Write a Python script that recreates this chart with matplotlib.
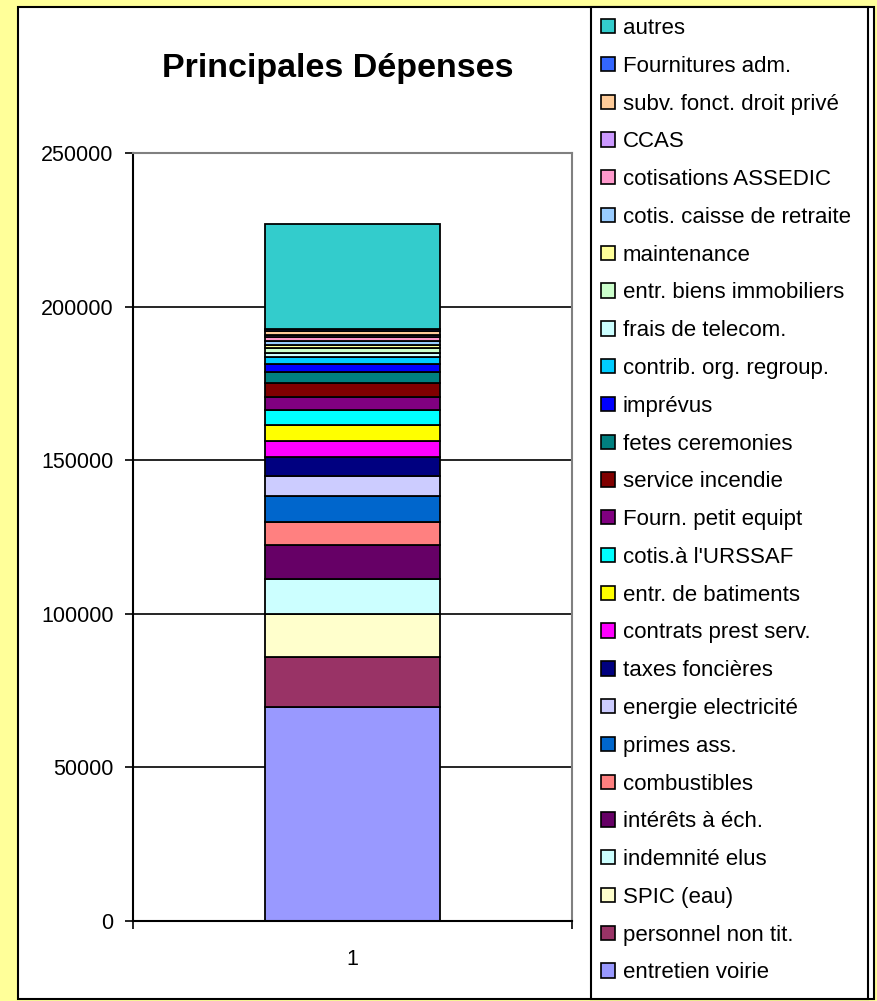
import matplotlib
matplotlib.use("Agg")
import matplotlib.pyplot as plt
from matplotlib.patches import Rectangle, Patch

plt.rcParams['font.family'] = ['Liberation Sans', 'DejaVu Sans']

# Series, bottom to top of the stacked bar
categories = ["1"]
series_names = [
    "entretien voirie", "personnel non tit.", "SPIC (eau)", "indemnité elus",
    "intérêts à éch.", "combustibles", "primes ass.", "energie electricité",
    "taxes foncières", "contrats prest serv.", "entr. de batiments",
    "cotis.à l'URSSAF", "Fourn. petit equipt", "service incendie",
    "fetes ceremonies", "imprévus", "contrib. org. regroup.", "frais de telecom.",
    "entr. biens immobiliers", "maintenance", "cotis. caisse de retraite",
    "cotisations ASSEDIC", "CCAS", "subv. fonct. droit privé", "Fournitures adm.",
    "autres",
]
series_values = [
    69700, 16300, 14000, 11300,
    11100, 7600, 8200, 6500,
    6300, 5200, 5200,
    5000, 4300, 4300,
    3700, 2500, 2400, 1300,
    1500, 1000, 1500,
    1300, 700, 1100, 800,
    34200,
]
series_colors = [
    "#9999FF", "#993366", "#FFFFCC", "#CCFFFF",
    "#660066", "#FF8080", "#0066CC", "#CCCCFF",
    "#000080", "#FF00FF", "#FFFF00",
    "#00FFFF", "#800080", "#800000",
    "#008080", "#0000FF", "#00CCFF", "#CCFFFF",
    "#CCFFCC", "#FFFF99", "#99CCFF",
    "#FF99CC", "#CC99FF", "#FFCC99", "#3366FF",
    "#33CCCC",
]
y_ticks = [0, 50000, 100000, 150000, 200000, 250000]

W, H = 877, 1001
fig = plt.figure(figsize=(W / 100, H / 100), dpi=100)
fig.patch.set_facecolor("#FFFF99")

def fx(px):
    return px / W

def fy(py):
    return 1 - py / H

# white chart area with black border
fig.patches.append(Rectangle((fx(18), fy(999)), fx(874) - fx(18), fy(7) - fy(999),
                             transform=fig.transFigure, facecolor="white",
                             edgecolor="black", linewidth=1.5, zorder=-2))
# legend box
fig.patches.append(Rectangle((fx(591), fy(999)), fx(868) - fx(591), fy(7) - fy(999),
                             transform=fig.transFigure, facecolor="white",
                             edgecolor="black", linewidth=1.5, zorder=-1))

ax = fig.add_axes([fx(133), fy(921), fx(572) - fx(133), fy(153) - fy(921)])
ax.set_zorder(1)
ax.set_facecolor("white")

bottom = 0
handles = []
for name, val, col in zip(series_names, series_values, series_colors):
    ax.bar([1], [val], bottom=bottom, width=0.4, color=col, edgecolor="black",
           linewidth=1.3, zorder=3)
    bottom += val
    handles.append(Patch(facecolor=col, edgecolor="black", linewidth=1.2, label=name))

ax.set_xlim(0.5, 1.5)
ax.set_ylim(0, 250000)
ax.set_yticks(y_ticks)
ax.set_yticklabels([str(v) for v in y_ticks], fontsize=15.5)
for v in y_ticks[1:]:
    ax.axhline(v, color="black", linewidth=1.2, zorder=1)

ax.set_xticks([1])
ax.set_xticklabels(categories, fontsize=15.5)
ax.set_xticks([0.5, 1.5], minor=True)
ax.tick_params(axis="x", which="major", length=0, pad=20)
ax.tick_params(axis="x", which="minor", length=6, width=1.2, direction="out")
ax.tick_params(axis="y", length=6, width=1.2, direction="out", pad=8)

for s in ["top", "right"]:
    ax.spines[s].set_color("#808080")
    ax.spines[s].set_linewidth(1.5)
for s in ["left", "bottom"]:
    ax.spines[s].set_color("black")
    ax.spines[s].set_linewidth(1.5)
ax.spines["bottom"].set_zorder(5)

fig.text(fx(338), fy(69), "Principales Dépenses", ha="center", va="center",
         fontsize=24.5, fontweight="bold")

leg = fig.legend(handles[::-1], series_names[::-1], loc="upper left",
                 bbox_to_anchor=(fx(601), fy(18)), frameon=False, fontsize=16,
                 handlelength=0.62, handleheight=0.62, handletextpad=0.35,
                 labelspacing=0.755, borderaxespad=0, borderpad=0)

fig.savefig("out.png", dpi=100, facecolor=fig.get_facecolor())
